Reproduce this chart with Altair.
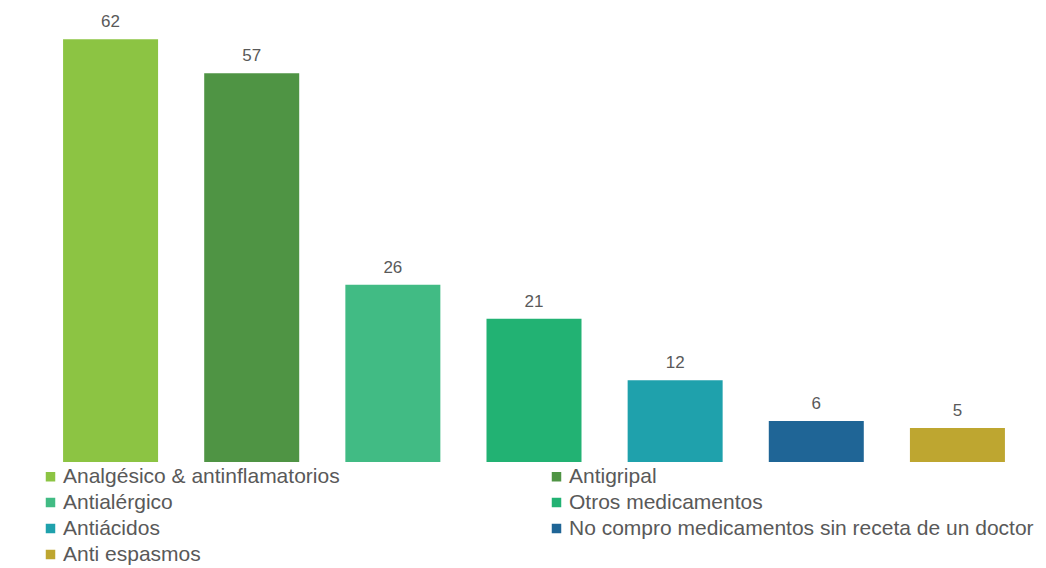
import altair as alt
import pandas as pd

categories = [
    "Analgésico & antinflamatorios",
    "Antigripal",
    "Antialérgico",
    "Otros medicamentos",
    "Antiácidos",
    "No compro medicamentos sin receta de un doctor",
    "Anti espasmos",
]
values = [62, 57, 26, 21, 12, 6, 5]
colors = ["#8CC443", "#4F9444", "#41BB84", "#22B273", "#1FA1AC", "#1F6596", "#BEA630"]

df = pd.DataFrame({"cat": categories, "val": values})

x = alt.X("cat:N", sort=categories, axis=None,
          scale=alt.Scale(paddingInner=0.33, paddingOuter=0.165))
y = alt.Y("val:Q", axis=None, scale=alt.Scale(domain=[0, 66.0], nice=False, zero=True))

bars = alt.Chart(df).mark_bar(size=95).encode(
    x=x,
    y=y,
    color=alt.Color("cat:N", sort=categories,
                    scale=alt.Scale(domain=categories, range=colors),
                    legend=alt.Legend(
                        title=None, orient="bottom", direction="horizontal", columns=2,
                        symbolType="square", symbolSize=90, symbolStrokeWidth=0,
                        labelFont="Liberation Sans", labelFontSize=21, labelColor="#595959",
                        labelLimit=700, columnPadding=206, rowPadding=4, offset=4,
                        symbolOffset=0, labelOffset=2, padding=0,
                    )),
)

labels = alt.Chart(df).mark_text(baseline="bottom", dy=-8, font="Liberation Sans",
                                 fontSize=17, color="#595959").encode(
    x=alt.X("cat:N", sort=categories),
    y="val:Q",
    text="val:Q",
)

chart = alt.layer(bars, labels).properties(
    width=988, height=450,
    padding={"left": 32, "top": 4, "right": 0, "bottom": 0},
).configure_view(stroke=None)

chart.save("out.html", embed_options={"renderer": "svg", "actions": False})
